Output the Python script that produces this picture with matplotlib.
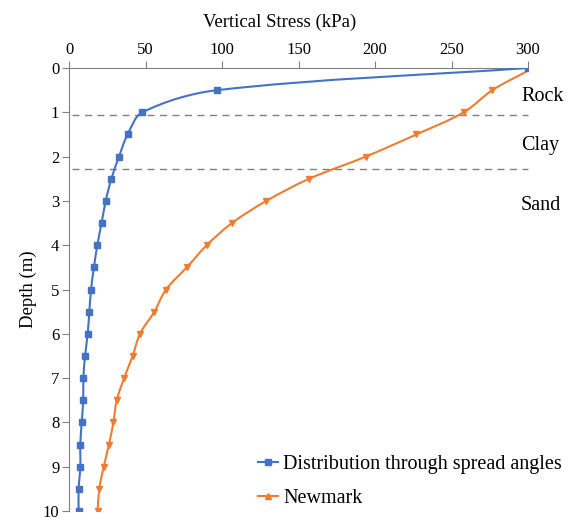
import matplotlib.pyplot as plt
from matplotlib.path import Path
from matplotlib.patches import PathPatch
from matplotlib.lines import Line2D
import numpy as np

plt.rcParams['font.family'] = ['Liberation Serif', 'DejaVu Serif']

# donnees
depth_spread = [0, 0.5, 1, 1.5, 2, 2.5, 3, 3.5, 4, 4.5, 5, 5.5, 6, 6.5, 7, 7.5, 8, 8.5, 9, 9.5, 10]
stress_spread = [300, 97, 48, 38.3, 32.7, 27.7, 24, 21.3, 18.5, 16.3, 14.4, 13.3, 12.2, 10.5, 9.4, 9.3, 8.3, 7.4, 7.4, 6.3, 6.3]

depth_newmark = [0.08, 0.5, 1, 1.5, 2, 2.5, 3, 3.5, 4, 4.5, 5, 5.5, 6, 6.5, 7, 7.5, 8, 8.5, 9, 9.5, 10]
stress_newmark = [299, 276.7, 258, 227, 194, 157, 129, 106.5, 90, 77, 63.4, 55.8, 46.4, 41.6, 36, 31.2, 29, 26.1, 22.7, 19.8, 18.7]

couches = ["Rock", "Clay", "Sand"]
couches_y = [0.65, 1.75, 3.1]
limites = [1.05, 2.28]

bleu = '#4472C4'
orange = '#ED7D31'


def courbe_lisse(ax, x, y, color):
    """trace une courbe lissee (type excel), tangentes proportionnelles aux segments"""
    pts = ax.transData.transform(np.column_stack([x, y]))
    verts = [pts[0]]
    codes = [Path.MOVETO]
    n = len(pts)
    for i in range(n - 1):
        p0 = pts[i - 1] if i > 0 else pts[i]
        p1 = pts[i]
        p2 = pts[i + 1]
        p3 = pts[i + 2] if i + 2 < n else pts[i + 1]
        L = np.hypot(*(p2 - p1))
        t1 = (p2 - p0) / np.hypot(*(p2 - p0))
        t2 = (p3 - p1) / np.hypot(*(p3 - p1))
        c1 = p1 + t1 * L / 3
        c2 = p2 - t2 * L / 3
        verts += [c1, c2, p2]
        codes += [Path.CURVE4] * 3
    verts = ax.transData.inverted().transform(np.array(verts))
    patch = PathPatch(Path(verts, codes), facecolor='none', edgecolor=color, lw=1.5, zorder=3)
    ax.add_patch(patch)


fig = plt.figure(figsize=(5.68, 5.2), dpi=100)
ax = fig.add_axes([69/568, 1-511/520, (528-69)/568, (511-68)/520])
ax.set_xlim(0, 300)
ax.set_ylim(10, 0)

courbe_lisse(ax, stress_spread, depth_spread, bleu)
courbe_lisse(ax, stress_newmark, depth_newmark, orange)
ax.plot(stress_spread, depth_spread, ls='none', marker='s', ms=5, color=bleu, zorder=4)
ax.plot(stress_newmark[1:], depth_newmark[1:], ls='none', marker='v', ms=4.5, color=orange, zorder=4)

for l in limites:
    ax.plot([2, 300], [l, l], ls=(0, (5, 4)), color='#808080', lw=1, clip_on=False)

for nom, yy in zip(couches, couches_y):
    ax.text(295.5, yy, nom, ha='left', va='center', fontsize=14.5, clip_on=False)

ax.xaxis.tick_top()
ax.xaxis.set_label_position('top')
ax.set_xticks([0, 50, 100, 150, 200, 250, 300])
ax.set_yticks(range(0, 11))
ax.tick_params(labelsize=12, color='#808080', length=5, pad=2)
ax.set_xlabel('Vertical Stress (kPa)', fontsize=13.5)
ax.xaxis.set_label_coords((280-69)/459, 1 + (68-27)/443, transform=ax.transAxes)
ax.set_ylabel('Depth (m)', fontsize=13.5, labelpad=4)
for s in ['right', 'bottom']:
    ax.spines[s].set_visible(False)
for s in ['left', 'top']:
    ax.spines[s].set_color('#808080')

handles = [Line2D([], [], color=bleu, marker='s', ms=4, lw=1.5),
           Line2D([], [], color=orange, marker='^', ms=4, lw=1.5)]
fig.legend(handles, ['Distribution through spread angles', 'Newmark'],
           loc='upper left', bbox_to_anchor=(258/568, 1-455/520), frameon=False,
           fontsize=14.5, handlelength=1.0, handletextpad=0.25, labelspacing=0.75,
           borderpad=0, borderaxespad=0)

fig.savefig('out.png', dpi=100)
